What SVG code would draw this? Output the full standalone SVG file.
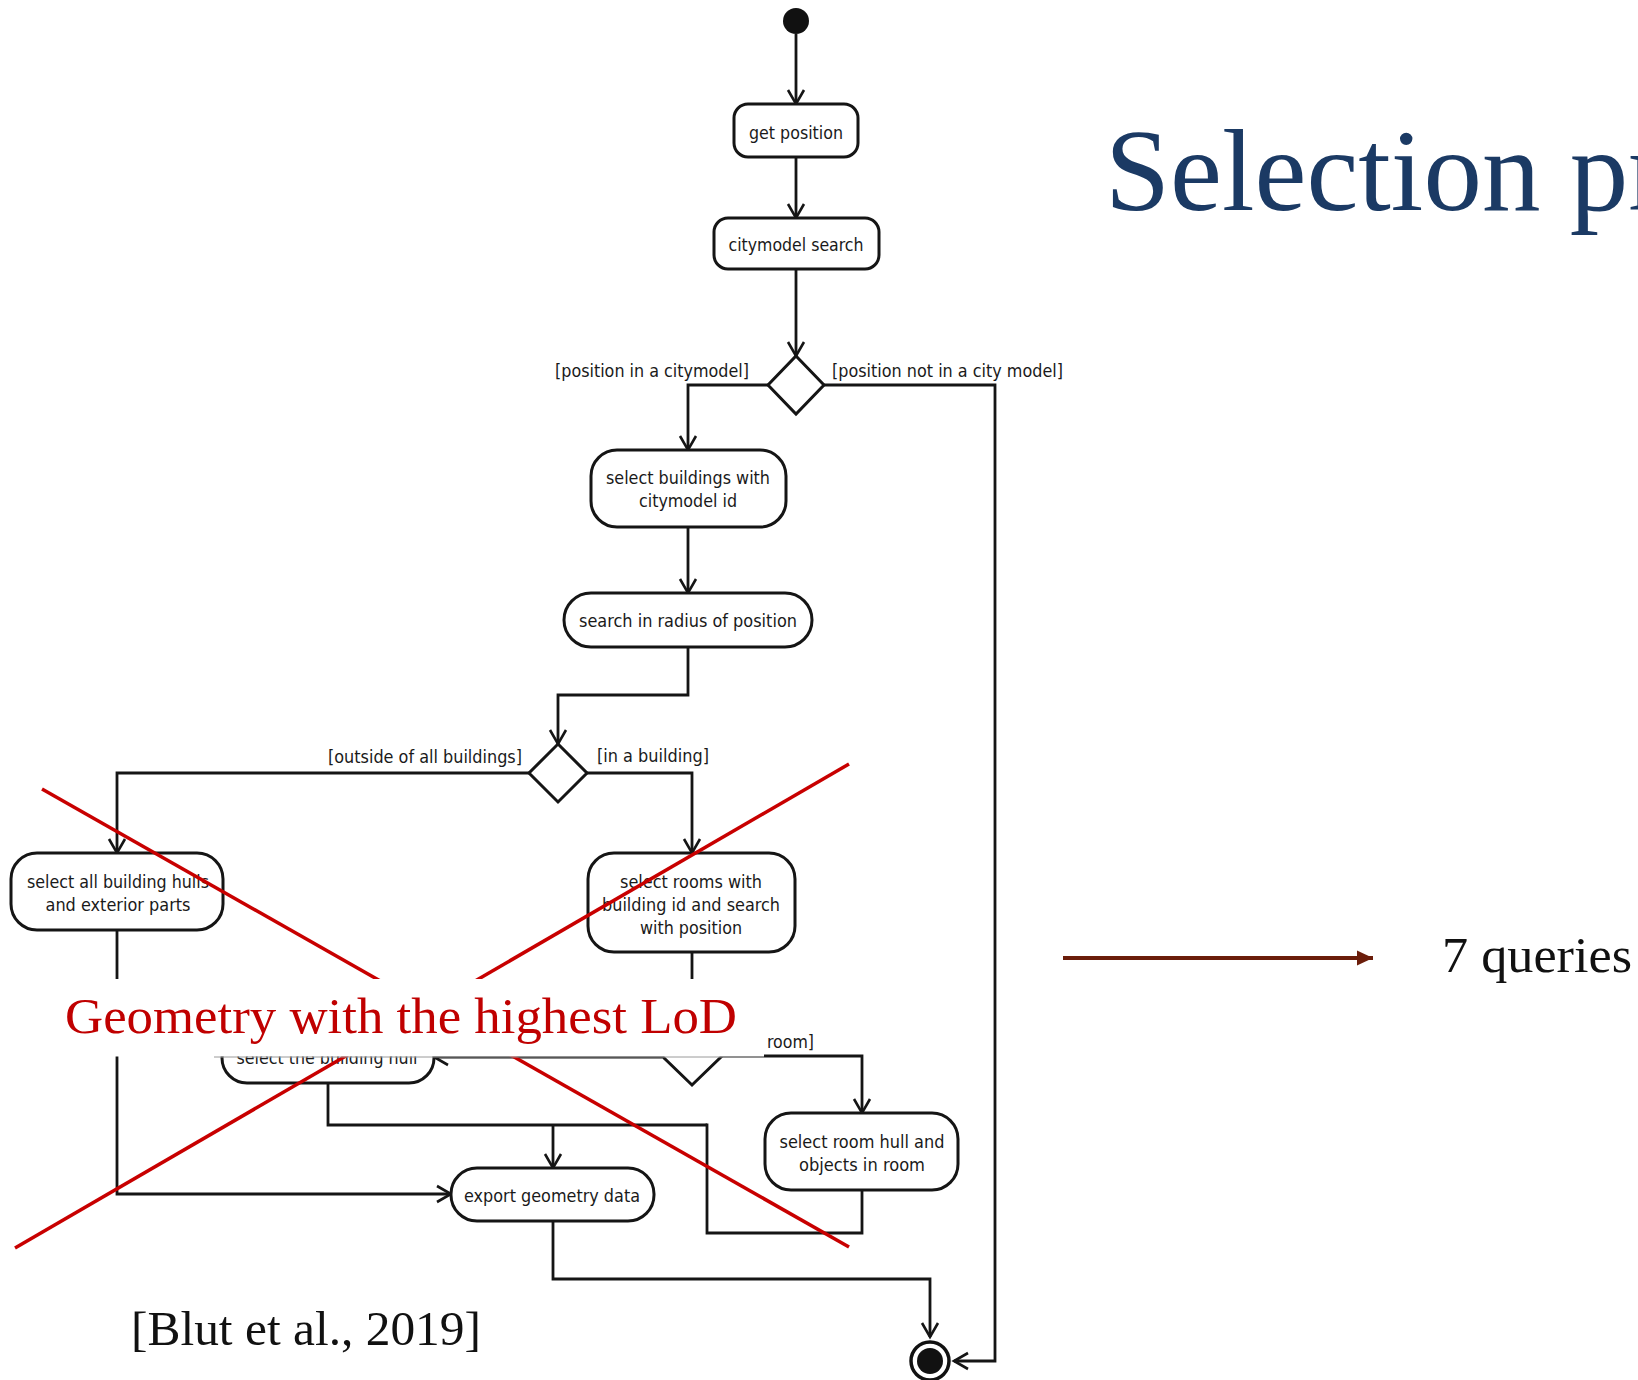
<svg xmlns="http://www.w3.org/2000/svg" width="1638" height="1380" viewBox="0 0 1638 1380">
  <defs>
    <marker id="open" markerUnits="userSpaceOnUse" markerWidth="20" markerHeight="20" refX="16" refY="10" orient="auto" viewBox="0 0 20 20">
      <path d="M2,2 L16,10 L2,18" fill="none" stroke="#151515" stroke-width="2.6" stroke-linejoin="miter"/>
    </marker>
    <marker id="solid" markerUnits="userSpaceOnUse" markerWidth="18" markerHeight="16" refX="16" refY="8" orient="auto" viewBox="0 0 18 16">
      <path d="M0,0.5 L16,8 L0,15.5 Z" fill="#6b1d0a"/>
    </marker>
  </defs>
  <style>
    .act { fill: #ffffff; stroke: #151515; stroke-width: 3; }
    .dec { fill: #ffffff; stroke: #151515; stroke-width: 3; stroke-linejoin: miter; }
    .edge { fill: none; stroke: #151515; stroke-width: 2.8; }
    .edge.arr { marker-end: url(#open); }
    .lbl { font-family: 'DejaVu Sans Condensed', 'DejaVu Sans', sans-serif; font-stretch: condensed; font-size: 18px; fill: #1a1a1a; }
    .mid { text-anchor: middle; }
    .cross { stroke: #c80000; stroke-width: 3.5; stroke-linecap: butt; }
    .serif { font-family: 'Liberation Serif', 'DejaVu Serif', serif; }
  </style>

  <rect width="1638" height="1380" fill="#ffffff"/>

  <!-- connectors of the activity diagram -->
  <g id="connectors">
    <path class="edge arr" d="M796,34 L796,104"/>
    <path class="edge arr" d="M796,157 L796,218"/>
    <path class="edge arr" d="M796,269 L796,356"/>
    <path class="edge arr" d="M768,385 L688,385 L688,450"/>
    <path class="edge arr" d="M824,385 L995,385 L995,1361 L954,1361"/>
    <path class="edge arr" d="M688,527 L688,593"/>
    <path class="edge arr" d="M688,647 L688,695 L558,695 L558,744"/>
    <path class="edge arr" d="M529,773 L117,773 L117,853"/>
    <path class="edge arr" d="M587,773 L692,773 L692,853"/>
    <path class="edge arr" d="M117,930 L117,1194 L451,1194"/>
    <path class="edge arr" d="M692,952 L692,1027"/>
    <path class="edge arr" d="M662,1057 L434,1057"/>
    <path class="edge arr" d="M722,1056 L862,1056 L862,1113"/>
    <path class="edge" d="M328,1083 L328,1125 L707,1125"/>
    <path class="edge arr" d="M553,1125 L553,1168"/>
    <path class="edge" d="M862,1190 L862,1233 L707,1233 L707,1123.6"/>
    <path class="edge arr" d="M553,1221 L553,1279 L930,1279 L930,1337"/>
  </g>

  <!-- start and end -->
  <g id="start"><circle cx="796" cy="21" r="13" fill="#111"/></g>
  <g id="end">
    <circle cx="930" cy="1361" r="19" fill="#fff" stroke="#111" stroke-width="3.5"/>
    <circle cx="930" cy="1361" r="13" fill="#111"/>
  </g>

  <!-- actions -->
  <g id="get-position">
    <rect class="act" x="734" y="104" width="124" height="53" rx="14"/>
    <text class="lbl mid" x="796" y="139" textLength="94" lengthAdjust="spacingAndGlyphs">get position</text>
  </g>
  <g id="citymodel-search">
    <rect class="act" x="714" y="218" width="165" height="51" rx="14"/>
    <text class="lbl mid" x="796" y="251" textLength="135" lengthAdjust="spacingAndGlyphs">citymodel search</text>
  </g>
  <g id="decision-citymodel">
    <polygon class="dec" points="796,356 824,385 796,414 768,385"/>
    <text class="lbl" x="555" y="377" textLength="194" lengthAdjust="spacingAndGlyphs">[position in a citymodel]</text>
    <text class="lbl" x="832" y="377" textLength="231" lengthAdjust="spacingAndGlyphs">[position not in a city model]</text>
  </g>
  <g id="select-buildings">
    <rect class="act" x="591" y="450" width="195" height="77" rx="26"/>
    <text class="lbl mid" x="688" y="484" textLength="164" lengthAdjust="spacingAndGlyphs">select buildings with</text>
    <text class="lbl mid" x="688" y="507" textLength="98" lengthAdjust="spacingAndGlyphs">citymodel id</text>
  </g>
  <g id="search-radius">
    <rect class="act" x="564" y="593" width="248" height="54" rx="27"/>
    <text class="lbl mid" x="688" y="627" textLength="218" lengthAdjust="spacingAndGlyphs">search in radius of position</text>
  </g>
  <g id="decision-building">
    <polygon class="dec" points="558,744 587,773 558,802 529,773"/>
    <text class="lbl" x="328" y="763" textLength="194" lengthAdjust="spacingAndGlyphs">[outside of all buildings]</text>
    <text class="lbl" x="597" y="762" textLength="112" lengthAdjust="spacingAndGlyphs">[in a building]</text>
  </g>
  <g id="select-hulls">
    <rect class="act" x="11" y="853" width="212" height="77" rx="26"/>
    <text class="lbl mid" x="118" y="888" textLength="182" lengthAdjust="spacingAndGlyphs">select all building hulls</text>
    <text class="lbl mid" x="118" y="911" textLength="145" lengthAdjust="spacingAndGlyphs">and exterior parts</text>
  </g>
  <g id="select-rooms">
    <rect class="act" x="588" y="853" width="207" height="99" rx="26"/>
    <text class="lbl mid" x="691" y="888" textLength="142" lengthAdjust="spacingAndGlyphs">select rooms with</text>
    <text class="lbl mid" x="691" y="911" textLength="178" lengthAdjust="spacingAndGlyphs">building id and search</text>
    <text class="lbl mid" x="691" y="934" textLength="102" lengthAdjust="spacingAndGlyphs">with position</text>
  </g>
  <g id="decision-room">
    <polygon class="dec" points="692,1027 722,1056 692,1085 662,1056"/>
    <text class="lbl" x="767" y="1048" textLength="47" lengthAdjust="spacingAndGlyphs">room]</text>
  </g>
  <g id="select-building-hull">
    <rect class="act" x="222" y="1033" width="212" height="50" rx="25"/>
    <text class="lbl mid" x="327" y="1064" textLength="181" lengthAdjust="spacingAndGlyphs">select the building hull</text>
  </g>
  <g id="select-room-hull">
    <rect class="act" x="765" y="1113" width="193" height="77" rx="26"/>
    <text class="lbl mid" x="862" y="1148" textLength="165" lengthAdjust="spacingAndGlyphs">select room hull and</text>
    <text class="lbl mid" x="862" y="1171" textLength="126" lengthAdjust="spacingAndGlyphs">objects in room</text>
  </g>
  <g id="export">
    <rect class="act" x="451" y="1168" width="203" height="53" rx="26"/>
    <text class="lbl mid" x="552" y="1202" textLength="176" lengthAdjust="spacingAndGlyphs">export geometry data</text>
  </g>

  <!-- red cross over the lower part -->
  <g id="cross">
    <line class="cross" x1="42" y1="789" x2="849" y2="1247"/>
    <line class="cross" x1="15" y1="1248" x2="849" y2="764"/>
  </g>

  <!-- caption band -->
  <g id="caption">
    <rect x="50" y="979" width="714" height="77.5" fill="#ffffff"/>
    <line x1="214" y1="1057" x2="764" y2="1057" stroke="#9a9a9a" stroke-width="1"/>
    <text class="serif" x="65" y="1033" font-size="50" fill="#c00000" textLength="672" lengthAdjust="spacingAndGlyphs">Geometry with the highest LoD</text>
  </g>

  <!-- slide title and notes -->
  <text id="title" class="serif" x="1105" y="210" font-size="117" fill="#1b3a64">Selection pr</text>
  <g id="queries">
    <line x1="1063" y1="958" x2="1373" y2="958" stroke="#6b1d0a" stroke-width="4" marker-end="url(#solid)"/>
    <text class="serif" x="1442" y="972" font-size="50" fill="#111" textLength="190" lengthAdjust="spacingAndGlyphs">7 queries</text>
  </g>
  <text id="citation" class="serif" x="131" y="1345" font-size="48" fill="#111" textLength="350" lengthAdjust="spacingAndGlyphs">[Blut et al., 2019]</text>
</svg>
